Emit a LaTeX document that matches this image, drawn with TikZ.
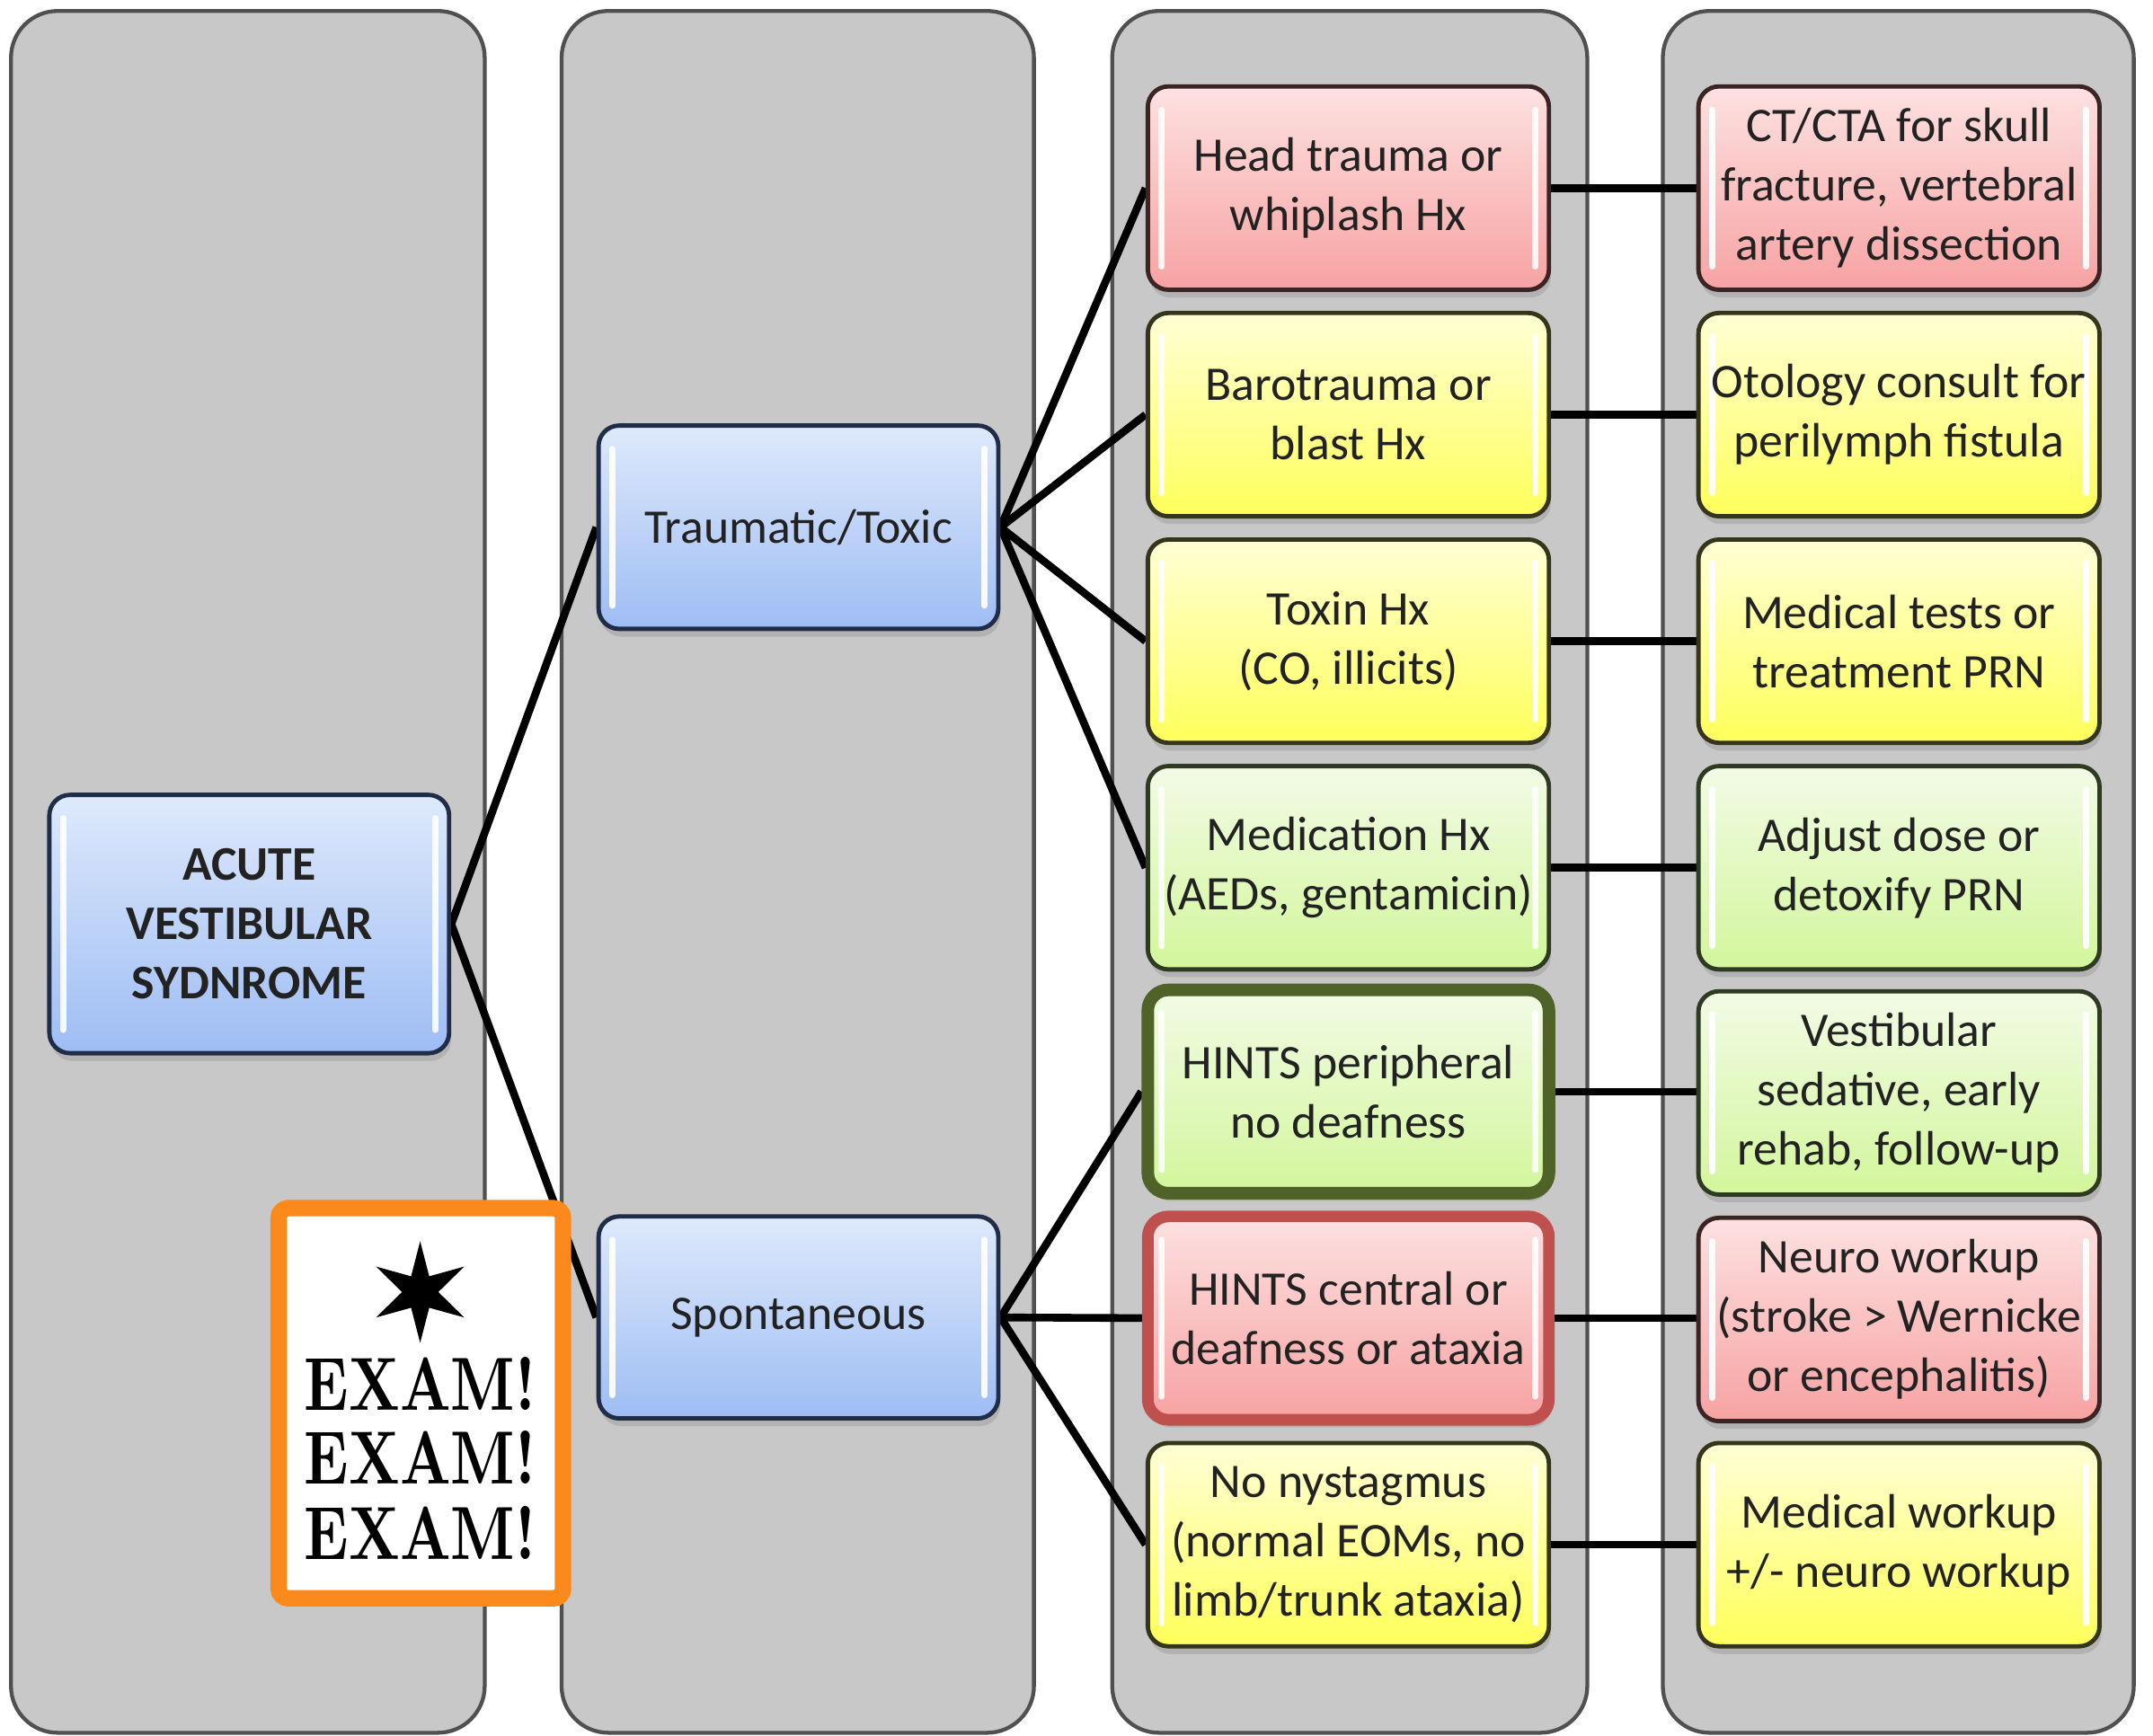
\documentclass[tikz,border=0pt]{standalone}
\usepackage{fontspec}
\usepackage{graphicx}
\setmainfont{Carlito}
\newfontfamily\lmbx{lmroman10-bold.otf}
\usetikzlibrary{shapes.geometric,shadows}
\definecolor{panelfill}{HTML}{C8C8C8}
\definecolor{panelline}{HTML}{505050}
\definecolor{txt}{HTML}{222222}
\definecolor{bluetop}{HTML}{DEE9FB}
\definecolor{bluebot}{HTML}{9EBDF4}
\definecolor{blueline}{HTML}{1F2D48}
\definecolor{redtop}{HTML}{FDE1E1}
\definecolor{redbot}{HTML}{F7A2A2}
\definecolor{redline}{HTML}{3C2424}
\definecolor{redthick}{HTML}{C0504D}
\definecolor{yeltop}{HTML}{FFFFD6}
\definecolor{yelbot}{HTML}{FFFF5A}
\definecolor{yelline}{HTML}{35351A}
\definecolor{grntop}{HTML}{F2FBE6}
\definecolor{grnbot}{HTML}{D3F69B}
\definecolor{grnline}{HTML}{2E3A22}
\definecolor{grnthick}{HTML}{4F6228}
\definecolor{examorange}{HTML}{FC891C}
\pgfdeclarelayer{back}
\pgfdeclarelayer{lines}
\pgfsetlayers{back,lines,main}
\begin{document}
\begin{tikzpicture}[x=0.01cm,y=-0.01cm,
  panel/.style={fill=panelfill,draw=panelline,line width=0.8pt,rounded corners=0.34cm},
  gloss/.style={path picture={
    \draw[white,line width=1.3pt,line cap=round,opacity=0.9]
      ([xshift=0.1cm,yshift=-0.17cm]path picture bounding box.north west) --
      ([xshift=0.1cm,yshift=0.17cm]path picture bounding box.south west)
      ([xshift=-0.1cm,yshift=-0.17cm]path picture bounding box.north east) --
      ([xshift=-0.1cm,yshift=0.17cm]path picture bounding box.south east);}},
  box/.style={rectangle,rounded corners=0.15cm,minimum width=2.92cm,minimum height=1.48cm,
    inner sep=0pt,align=center,text=txt,font=\fontsize{10}{12.3}\selectfont,line width=0.9pt,
    drop shadow={opacity=0.3,shadow xshift=0.4pt,shadow yshift=-1.6pt},gloss},
  bluebox/.style={box,draw=blueline,top color=bluetop,bottom color=bluebot},
  redbox/.style={box,draw=redline,top color=redtop,bottom color=redbot},
  yelbox/.style={box,draw=yelline,top color=yeltop,bottom color=yelbot},
  grnbox/.style={box,draw=grnline,top color=grntop,bottom color=grnbot},
  conn/.style={draw=black,line width=1.6pt},
  examline/.style={font=\lmbx\fontsize{15.6}{15.4}\selectfont,inner sep=0pt,anchor=base,text=black}
]
\useasboundingbox (0,0) rectangle (1568,1264);
\begin{pgfonlayer}{back}
\fill[white] (0,0) rectangle (1568,1264);
\path[panel] (8,8) rectangle (353,1262);
\path[panel] (409,8) rectangle (753,1262);
\path[panel] (810,8) rectangle (1156,1262);
\path[panel] (1211,8) rectangle (1554,1262);
\end{pgfonlayer}

\node[bluebox,minimum width=2.91cm,minimum height=1.88cm,font=\fontsize{10}{12.3}\selectfont\bfseries] (avs) at (181.5,673) {ACUTE\\VESTIBULAR\\SYDNROME};
\node[bluebox,minimum width=2.91cm] (tt) at (581.5,384) {Traumatic/Toxic};
\node[bluebox,minimum width=2.91cm,minimum height=1.47cm] (sp) at (581.5,959.5) {Spontaneous};

\node[redbox] (c1) at (982,137) {Head trauma or\\whiplash Hx};
\node[yelbox] (c2) at (982,302) {Barotrauma or\\blast Hx};
\node[yelbox] (c3) at (982,467) {Toxin Hx\\(CO, illicits)};
\node[grnbox] (c4) at (982,632) {Medication Hx\\(AEDs, gentamicin)};
\node[grnbox,draw=grnthick,line width=2.6pt] (c5) at (982,795) {HINTS peripheral\\no deafness};
\node[redbox,draw=redthick,line width=2.4pt] (c6) at (982,960) {HINTS central or\\deafness or ataxia};
\node[yelbox] (c7) at (982,1125) {No nystagmus\\(normal EOMs, no\\limb/trunk ataxia)};

\node[redbox] (d1) at (1383,137) {CT/CTA for skull\\fracture, vertebral\\artery dissection};
\node[yelbox] (d2) at (1383,302) {Otology consult for\\perilymph fistula};
\node[yelbox] (d3) at (1383,467) {Medical tests or\\treatment PRN};
\node[grnbox] (d4) at (1383,632) {Adjust dose or\\detoxify PRN};
\node[grnbox] (d5) at (1383,796) {Vestibular\\sedative, early\\rehab, follow-up};
\node[redbox] (d6) at (1383,961) {Neuro workup\\(stroke > Wernicke\\or encephalitis)};
\node[yelbox] (d7) at (1383,1125) {Medical workup\\+/- neuro workup};

\begin{pgfonlayer}{lines}
\draw[conn] (avs.east) -- (tt.west);
\draw[conn] (avs.east) -- (sp.west);
\foreach \c in {c1,c2,c3,c4} \draw[conn] (tt.east) -- (\c.west);
\foreach \c in {c5,c6,c7} \draw[conn] (sp.east) -- (\c.west);
\draw[conn] (c1.east) -- (d1.west);
\draw[conn] (c2.east) -- (d2.west);
\draw[conn] (c3.east) -- (d3.west);
\draw[conn] (c4.east) -- (d4.west);
\draw[conn] (c5.east) -- (c5.east -| d5.west);
\draw[conn] (c6.east) -- (c6.east -| d6.west);
\draw[conn] (c7.east) -- (d7.west);
\end{pgfonlayer}

\node[draw=examorange,line width=3.4pt,fill=white,rounded corners=2pt,minimum width=2.07cm,minimum height=2.84cm,inner sep=0pt] (exam) at (306.5,1022) {};
\node[star,star points=6,star point ratio=2.8,fill=black,minimum size=0.74cm,inner sep=0pt] (star) at (306,941) {};
\node[examline] (e1) at (306,1027) {\scalebox{0.78}[1]{EXAM!}};
\node[examline] (e2) at (306,1081) {\scalebox{0.78}[1]{EXAM!}};
\node[examline] (e3) at (306,1135.5) {\scalebox{0.78}[1]{EXAM!}};
\end{tikzpicture}
\end{document}
